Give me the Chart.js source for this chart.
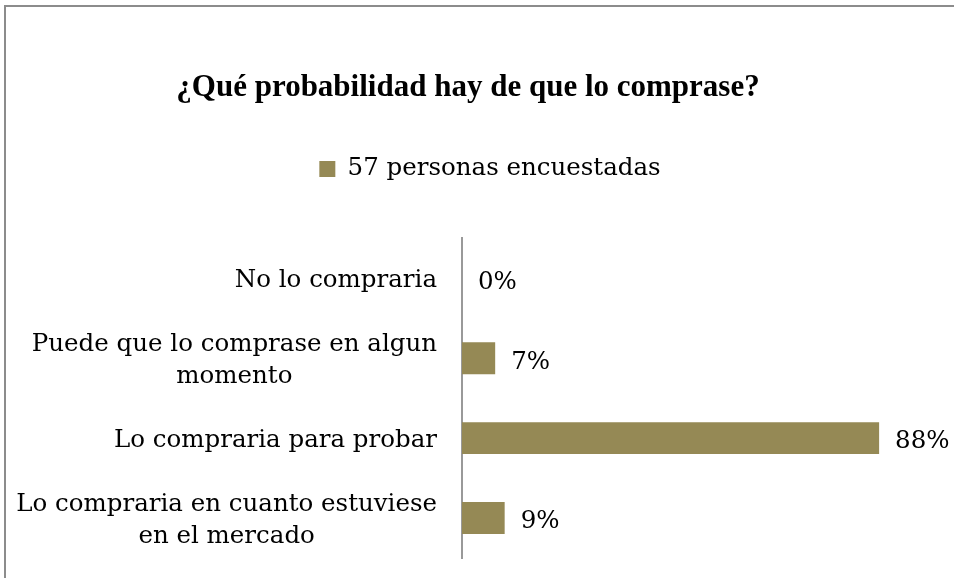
<!DOCTYPE html>
<html>
<head>
<meta charset="utf-8">
<script src="https://cdn.jsdelivr.net/npm/chart.js@4.4.0/dist/chart.umd.min.js"></script>
<style>
html, body { margin: 0; padding: 0; background: #fff; overflow: hidden; }
#marco { position: absolute; left: 4px; top: 5px; width: 1000px; height: 1000px; border-left: 2px solid #8c8c8c; border-top: 2px solid #8c8c8c; }
#caja { position: absolute; left: 0; top: 0; width: 954px; height: 578px; }
</style>
</head>
<body>
<div id="marco"></div>
<div id="caja"><canvas id="grafico"></canvas></div>
<script>
const categorias = [
    ['No lo compraria'],
    ['Puede que lo comprase en algun', 'momento'],
    ['Lo compraria para probar'],
    ['Lo compraria en cuanto estuviese', 'en el mercado']
];
const valores = [0, 7, 88, 9];
const serie = '57 personas encuestadas';
const titulo = '¿Qué probabilidad hay de que lo comprase?';

const fuente = '"DejaVu Serif", serif';

// etiquetas de categorias (lineas centradas) y porcentajes
const etiquetas = {
    id: 'etiquetas',
    afterDatasetsDraw(chart) {
        const ctx = chart.ctx;
        const ejeY = chart.scales.y;
        ctx.save();
        ctx.font = '24.5px ' + fuente;
        ctx.fillStyle = '#000';
        ctx.textBaseline = 'middle';
        const derecha = chart.chartArea.left - 25;
        const lh = 32;
        chart.data.labels.forEach((lineas, i) => {
            const cy = ejeY.getPixelForValue(i) + 2.5;
            const w = Math.max(...lineas.map(l => ctx.measureText(l).width));
            ctx.textAlign = 'center';
            lineas.forEach((l, k) => {
                ctx.fillText(l, derecha - w / 2, cy + (k - (lineas.length - 1) / 2) * lh);
            });
        });
        ctx.textAlign = 'left';
        chart.getDatasetMeta(0).data.forEach((barra, i) => {
            ctx.fillText(valores[i] + '%', barra.x + 16, barra.y + 4);
        });
        ctx.restore();
    }
};

// espacio extra bajo la leyenda y leyenda algo desplazada a la derecha
const ajusteLeyenda = {
    id: 'ajusteLeyenda',
    beforeInit(chart) {
        const fit = chart.legend.fit;
        chart.legend.fit = function () {
            fit.bind(chart.legend)();
            this.height += 47;
        };
    },
    afterLayout(chart) {
        chart.legend.left += 44;
    }
};

new Chart(document.getElementById('grafico'), {
    type: 'bar',
    data: {
        labels: categorias,
        datasets: [{
            label: serie,
            data: valores,
            backgroundColor: '#958955',
            borderWidth: 0,
            categoryPercentage: 0.8,
            barPercentage: 0.5
        }]
    },
    options: {
        indexAxis: 'y',
        responsive: true,
        maintainAspectRatio: false,
        animation: false,
        layout: { padding: { left: 0, right: 18, top: 0, bottom: 20 } },
        scales: {
            x: { display: false, min: 0, max: 100 },
            y: {
                grid: { display: false, drawTicks: false },
                ticks: { display: false },
                border: { display: true, color: '#999', width: 2 },
                afterFit(scale) { scale.width = 462; }
            }
        },
        plugins: {
            title: {
                display: true,
                text: titulo,
                color: '#000',
                font: { family: '"Liberation Serif", serif', size: 31, weight: 'bold', lineHeight: 1.2 },
                padding: { top: 69.4, bottom: 40.2 }
            },
            legend: {
                position: 'top',
                labels: {
                    color: '#000',
                    boxWidth: 16,
                    boxHeight: 16,
                    padding: 10,
                    font: { family: fuente, size: 24.5 }
                }
            },
            tooltip: { enabled: false }
        }
    },
    plugins: [ajusteLeyenda, etiquetas]
});
</script>
</body>
</html>
